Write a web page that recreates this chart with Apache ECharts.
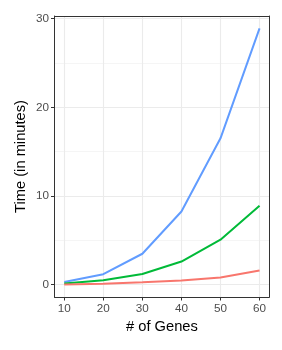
<!DOCTYPE html>
<html><head><meta charset="utf-8">
<script src="https://cdn.jsdelivr.net/npm/echarts@6/dist/echarts.min.js"></script>
<style>html,body{margin:0;padding:0;background:#fff}#c{width:282px;height:350px}</style>
</head><body><div id="c"></div>
<script>
const genes = [10, 20, 30, 40, 50, 60];
const seriesBlue = [0.3, 1.17, 3.48, 8.25, 16.5, 28.9];
const seriesGreen = [0.11, 0.5, 1.2, 2.6, 5.06, 8.9];
const seriesRed = [0.02, 0.1, 0.27, 0.45, 0.8, 1.6];
const xTicks = [10, 20, 30, 40, 50, 60];
const yTicks = [0, 10, 20, 30];
const yMinor = [5, 15, 25];
const xTitle = '# of Genes';
const yTitle = 'Time (in minutes)';

const font = 'Liberation Sans, Arial, sans-serif';
const chart = echarts.init(document.getElementById('c'), null, {renderer: 'canvas'});
const pair = a => genes.map((g, i) => [g, a[i]]);
const mkLine = (name, data, color) => ({
  name, type: 'line', data: pair(data), symbol: 'none', xAxisIndex: 0, yAxisIndex: 0,
  lineStyle: {color, width: 2}, itemStyle: {color}, z: 5, animation: false
});
chart.setOption({
  animation: false,
  grid: {left: 54.5, top: 16, right: 12.7, bottom: 53, show: false},
  xAxis: [{
    type: 'value', min: 7.5, max: 62.5,
    axisLine: {show: true, onZero: false, lineStyle: {color: '#333333', width: 1}},
    axisTick: {show: true, length: 3.5, customValues: xTicks, lineStyle: {color: '#333333'}},
    axisLabel: {customValues: xTicks, color: '#4D4D4D', fontSize: 11.7, fontFamily: font, margin: 6},
    splitLine: {show: true, lineStyle: {color: '#EBEBEB', width: 1.1}}
  }, {
    type: 'value', min: 7.5, max: 62.5, position: 'top',
    axisLine: {show: true, onZero: false, lineStyle: {color: '#333333', width: 1}},
    axisTick: {show: false}, axisLabel: {show: false}, splitLine: {show: false}
  }],
  yAxis: [{
    type: 'value', min: -1.4, max: 30.3,
    axisLine: {show: true, onZero: false, lineStyle: {color: '#333333', width: 1}},
    axisTick: {show: true, length: 3.5, customValues: yTicks, lineStyle: {color: '#333333'}},
    axisLabel: {customValues: yTicks, color: '#4D4D4D', fontSize: 11.7, fontFamily: font, margin: 5.5},
    splitLine: {show: true, lineStyle: {color: '#EBEBEB', width: 1.1}}
  }, {
    type: 'value', min: -1.4, max: 30.3, position: 'right',
    axisLine: {show: true, onZero: false, lineStyle: {color: '#333333', width: 1}},
    axisTick: {show: false, customValues: yMinor}, axisLabel: {show: false, customValues: yMinor},
    splitLine: {show: true, lineStyle: {color: '#F2F2F2', width: 0.8}}
  }],
  series: [
    mkLine('blue', seriesBlue, '#619CFF'),
    mkLine('green', seriesGreen, '#00BA38'),
    mkLine('red', seriesRed, '#F8766D')
  ],
  graphic: [
    {type: 'text', x: 161.9, y: 327, style: {text: xTitle, fill: '#000', font: '14.7px ' + font, align: 'center', verticalAlign: 'middle'}},
    {type: 'text', x: 21, y: 156.5, rotation: Math.PI / 2, style: {text: yTitle, fill: '#000', font: '14.7px ' + font, align: 'center', verticalAlign: 'middle'}}
  ]
});
</script></body></html>
